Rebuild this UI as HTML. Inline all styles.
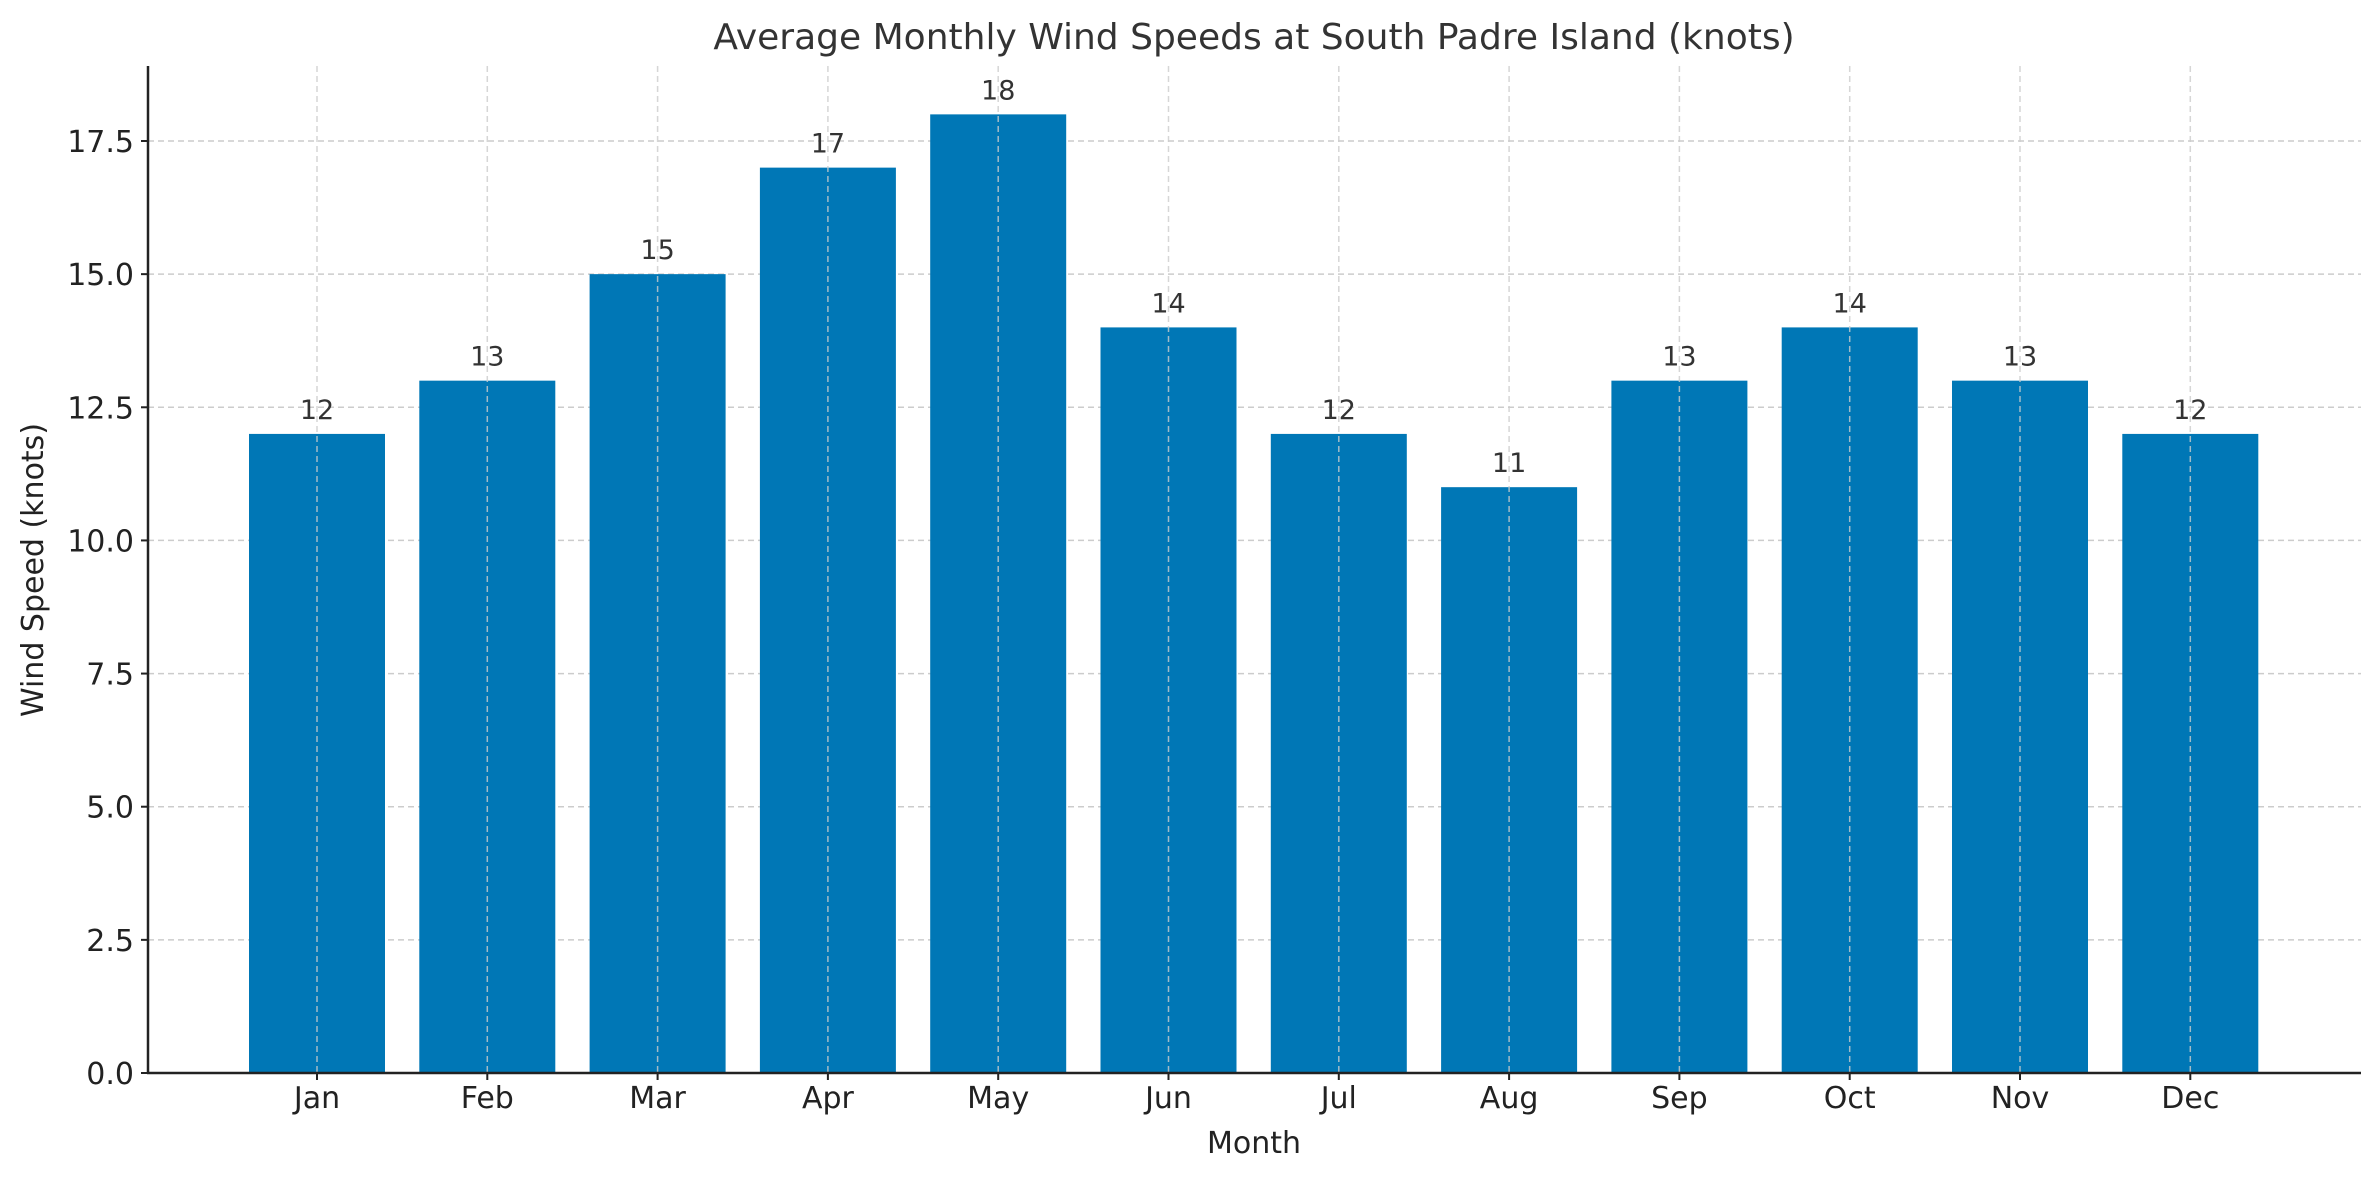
<!DOCTYPE html>
<html><head><meta charset="utf-8"><style>
html,body{margin:0;padding:0;background:#fff;}
svg{display:block;font-family:"DejaVu Sans","Liberation Sans",sans-serif;}
</style></head><body>
<svg id="chart" width="2379" height="1180" viewBox="0 0 2379 1180">
<text x="1254" y="49" text-anchor="middle" font-size="36" fill="#333">Average Monthly Wind Speeds at South Padre Island (knots)</text>
<g id="grid"></g>
<g id="bars"></g>
<g id="gridtop"></g>
<g id="labels"></g>
<g id="axes"></g>
<text x="1254" y="1153" text-anchor="middle" font-size="30" fill="#222">Month</text>
<text x="0" y="0" transform="translate(43,570) rotate(-90)" text-anchor="middle" font-size="30" fill="#222">Wind Speed (knots)</text>
</svg>
<script>
const categories = ["Jan","Feb","Mar","Apr","May","Jun","Jul","Aug","Sep","Oct","Nov","Dec"];
const values = [12,13,15,17,18,14,12,11,13,14,13,12];
const yTicks = [0,2.5,5,7.5,10,12.5,15,17.5];
const yTickLabels = ["0.0","2.5","5.0","7.5","10.0","12.5","15.0","17.5"];

const NS="http://www.w3.org/2000/svg";
const L=148, R=2361, T=66, B=1073;
const y0=1073, yPerUnit=(1073-141)/17.5;
const x0=317, step=170.3, barW=136;
function xPos(i){return x0+i*step;}
function yPos(v){return y0-v*yPerUnit;}
function mk(tag,attrs,parent){const e=document.createElementNS(NS,tag);for(const k in attrs)e.setAttribute(k,attrs[k]);parent.appendChild(e);return e;}
const grid=document.getElementById('grid'), bars=document.getElementById('bars'), gt=document.getElementById('gridtop'), labels=document.getElementById('labels'), axes=document.getElementById('axes');

yTicks.forEach((t,i)=>{
  const y=yPos(t);
  const g=mk('line',{x1:L,x2:R,y1:y,y2:y,stroke:'#ccc','stroke-width':1.5,'stroke-dasharray':'6,4'},grid);
  
  
  const tk=mk('line',{x1:L-7,x2:L,y1:y,y2:y,stroke:'#222','stroke-width':2},axes);
  
  
  const tx=mk('text',{x:L-14,y:y+11,'text-anchor':'end','font-size':30,fill:'#222'},axes);
  tx.textContent=yTickLabels[i];
  
  
});

categories.forEach((c,i)=>{
  const x=xPos(i), v=values[i];
  const b=mk('rect',{x:x-barW/2,y:yPos(v),width:barW,height:y0-yPos(v),fill:'#0077b6'},bars);
  
  
  const g=mk('line',{x1:x,x2:x,y1:T,y2:B,stroke:'#ccc','stroke-width':1.5,'stroke-dasharray':'6,4','stroke-opacity':0.8},gt);
  
  
  const lb=mk('text',{x:x,y:yPos(v)-15,'text-anchor':'middle','font-size':27,fill:'#333'},labels);
  lb.textContent=String(v);
  
  
  const tk=mk('line',{x1:x,x2:x,y1:B,y2:B+7,stroke:'#222','stroke-width':2},axes);
  
  
  const tx=mk('text',{x:x,y:1108,'text-anchor':'middle','font-size':30,fill:'#222'},axes);
  tx.textContent=c;
  
  
});

const ls=mk('line',{x1:L,x2:L,y1:T,y2:B+1,stroke:'#222','stroke-width':2.5},axes);


const bs=mk('line',{x1:L-1,x2:R,y1:B,y2:B,stroke:'#222','stroke-width':2.5},axes);


</script>
</body></html>
